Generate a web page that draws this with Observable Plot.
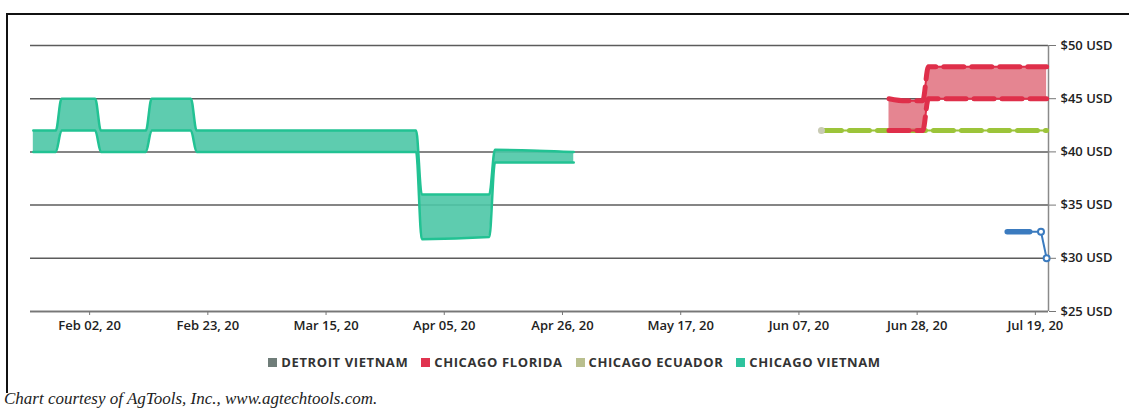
<!DOCTYPE html>
<html><head><meta charset="utf-8">
<script src="https://cdn.jsdelivr.net/npm/d3@7"></script>
<script src="https://cdn.jsdelivr.net/npm/@observablehq/plot@0.6"></script>
<style>
body{margin:0;background:#fff;width:1129px;height:412px;overflow:hidden;position:relative;font-family:"Open Sans",sans-serif;}
#frame{position:absolute;left:6px;top:13px;width:1140px;height:378px;border-top:2px solid #111;border-left:2px solid #111;}
#chart{position:absolute;left:0;top:0;}
#legend{position:absolute;left:0;width:1133px;top:338px;display:flex;justify-content:center;gap:13px;font-size:13px;font-weight:700;letter-spacing:0.6px;color:#333;}
#legend .item{display:flex;align-items:center;gap:4px;}
#legend .sw{width:9px;height:9px;display:inline-block;}
#caption{position:absolute;left:4px;top:389px;font-family:"Liberation Serif",serif;font-style:italic;font-size:17px;color:#222;white-space:nowrap;}
</style></head>
<body>
<div id="frame">
  <div id="chart"></div>
  <div id="legend"></div>
</div>
<div id="caption">Chart courtesy of AgTools, Inc., www.agtechtools.com.</div>
<script>
// ---- data ----
const seriesNames = ["DETROIT VIETNAM", "CHICAGO FLORIDA", "CHICAGO ECUADOR", "CHICAGO VIETNAM"];
const legendColors = ["#6f7d79", "#e0334f", "#b9bf8e", "#2dc39d"];

const xDomain = ["2020-01-22T12:00", "2020-07-21T08:00"];
const xTicks = ["2020-02-02", "2020-02-23", "2020-03-15", "2020-04-05", "2020-04-26", "2020-05-17", "2020-06-07", "2020-06-28", "2020-07-19"];
const yTicks = [25, 30, 35, 40, 45, 50];

const vietnamDates = ["2020-01-23", "2020-01-27", "2020-01-28", "2020-02-03", "2020-02-04", "2020-02-12", "2020-02-13", "2020-02-20", "2020-02-21", "2020-03-31", "2020-04-01", "2020-04-13", "2020-04-14", "2020-04-28"];
const vietnamLow  = [40, 40, 42, 42, 40, 40, 42, 42, 40, 40, 31.8, 32, 39, 39];
const vietnamHigh = [42, 42, 45, 45, 42, 42, 45, 45, 42, 42, 36, 36, 40.2, 40];

const floridaDates = ["2020-06-23", "2020-06-26", "2020-06-29", "2020-06-30", "2020-07-21"];
const floridaLow  = [42, 42, 42, 45, 45];
const floridaHigh = [45, 44.8, 44.8, 48, 48];

const ecuadorDates = ["2020-06-11", "2020-07-21"];
const ecuadorValues = [42, 42];

const detroitDates = ["2020-07-14", "2020-07-18", "2020-07-20", "2020-07-21"];
const detroitValues = [32.5, 32.5, 32.5, 30];

// ---- build ----
const P = s => new Date(s + (s.length === 10 ? "T00:00Z" : "Z"));
const vietnam = vietnamDates.map((d, i) => ({date: P(d), low: vietnamLow[i], high: vietnamHigh[i]}));
const florida = floridaDates.map((d, i) => ({date: P(d), low: floridaLow[i], high: floridaHigh[i]}));
const ecuador = ecuadorDates.map((d, i) => ({date: P(d), value: ecuadorValues[i]}));
const detroit = detroitDates.map((d, i) => ({date: P(d), value: detroitValues[i]}));
const curve = "monotone-x";

const teal = "#22c293", tealFill = "#4cc6a6";
const red = "#df2f4a", redFill = "#e0707e";
const green = "#9cc43a", blue = "#3b7bbf";

const chart = Plot.plot({
  width: 1121,
  height: 324,
  marginLeft: 22,
  marginRight: 81,
  marginTop: 30,
  marginBottom: 28,
  style: {fontFamily: "'Open Sans', sans-serif", fontSize: "13px", fontWeight: 600, color: "#222", background: "transparent"},
  x: {type: "utc", domain: xDomain.map(P)},
  y: {domain: [25, 50]},
  marks: [
    Plot.gridY(yTicks, {stroke: "#5c5c5c", strokeOpacity: 1, strokeWidth: 1.5}),
    Plot.ruleY([yTicks[0]], {stroke: "#777", strokeWidth: 1.5}),
    Plot.ruleX([P(xDomain[1])], {stroke: "#8a8a8a", strokeWidth: 1.5}),
    // Chicago Vietnam
    Plot.areaY(vietnam, {x: "date", y1: "low", y2: "high", fill: tealFill, fillOpacity: 0.9, curve}),
    Plot.lineY(vietnam, {x: "date", y: "low", stroke: teal, strokeWidth: 2.5, curve}),
    Plot.lineY(vietnam, {x: "date", y: "high", stroke: teal, strokeWidth: 2.5, curve}),
    // Chicago Ecuador
    Plot.lineY(ecuador, {x: "date", y: "value", stroke: green, strokeWidth: 2}),
    Plot.lineY(ecuador, {x: "date", y: "value", stroke: green, strokeWidth: 5, strokeDasharray: "20,8", strokeLinecap: "round"}),
    Plot.dot(ecuador.slice(0, 1), {x: "date", y: "value", r: 3.5, fill: "#c9cbb4", stroke: "none"}),
    // Chicago Florida
    Plot.areaY(florida, {x: "date", y1: "low", y2: "high", fill: redFill, fillOpacity: 0.85, curve}),
    Plot.lineY(florida, {x: "date", y: "low", stroke: red, strokeWidth: 2, curve}),
    Plot.lineY(florida, {x: "date", y: "high", stroke: red, strokeWidth: 2, curve}),
    Plot.lineY(florida, {x: "date", y: "low", stroke: red, strokeWidth: 5, strokeDasharray: "20,8", strokeLinecap: "round", curve}),
    Plot.lineY(florida, {x: "date", y: "high", stroke: red, strokeWidth: 5, strokeDasharray: "20,8", strokeLinecap: "round", curve}),
    // Detroit Vietnam
    Plot.lineY(detroit, {x: "date", y: "value", stroke: blue, strokeWidth: 2}),
    Plot.lineY(detroit.slice(0, 2), {x: "date", y: "value", stroke: blue, strokeWidth: 5.5, strokeLinecap: "round"}),
    Plot.dot(detroit.slice(2), {x: "date", y: "value", r: 3, fill: "#fff", stroke: blue, strokeWidth: 2}),
    // axes
    Plot.axisX(xTicks.map(P), {tickFormat: d3.utcFormat("%b %d, %y"), tickSize: 4, tickPadding: 5, stroke: "#777", label: null}),
    Plot.axisY(yTicks, {anchor: "right", tickFormat: d => `$${d} USD`, tickSize: 7, tickPadding: 5, stroke: "#777", label: null})
  ]
});
document.getElementById("chart").appendChild(chart);

const legend = document.getElementById("legend");
seriesNames.forEach((name, i) => {
  const it = document.createElement("div");
  it.className = "item";
  const sw = document.createElement("span");
  sw.className = "sw";
  sw.style.background = legendColors[i];
  const tx = document.createElement("span");
  tx.textContent = name;
  it.appendChild(sw); it.appendChild(tx);
  legend.appendChild(it);
});
</script>
</body></html>
